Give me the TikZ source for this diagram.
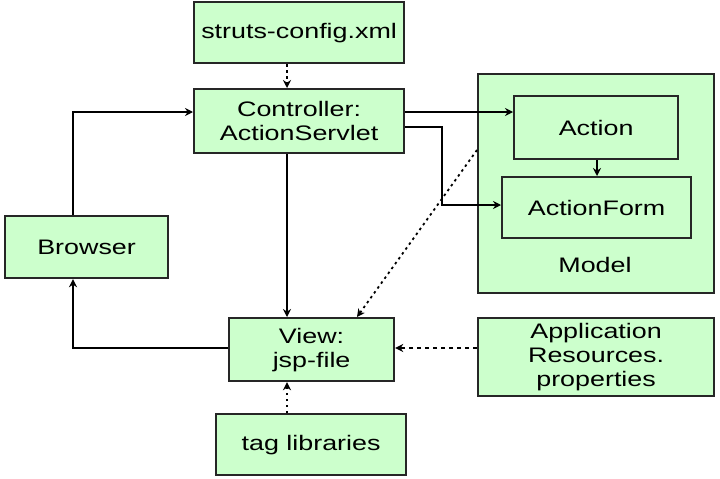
\documentclass[tikz,border=0pt]{standalone}
\usepackage{fontspec}
\setmainfont{Liberation Sans}[FakeStretch=1.28]
\usetikzlibrary{arrows.meta}
\definecolor{boxgreen}{RGB}{204,255,204}
\begin{document}
\begin{tikzpicture}[x=1pt,y=-1pt,
 box/.style={draw=black!85, line width=2.2pt, fill=boxgreen, inner sep=0pt, align=center, anchor=north west, font=\fontsize{21}{24}\selectfont},
 conn/.style={line width=1.8pt, -{Stealth[length=8pt,width=8pt]}},
 dotconn/.style={conn, dash pattern=on 2.5pt off 3.5pt},
 dashconn/.style={conn, dash pattern=on 4pt off 4pt}]
\useasboundingbox (0,0) rectangle (720,479);
\path[fill=white] (0,0) rectangle (720,479);
% boxes
\node[box, minimum width=210pt, minimum height=61pt] (struts) at (193,1) {struts-config.xml};
\node[box, minimum width=210pt, minimum height=64pt] (ctrl) at (193,88) {Controller:\\ActionServlet};
\node[box, minimum width=236pt, minimum height=219pt] (model) at (477,73) {};
\node[box, minimum width=164pt, minimum height=63pt] (action) at (513,95) {Action};
\node[box, minimum width=189pt, minimum height=61pt] (aform) at (501,176) {ActionForm};
\node[font=\fontsize{21}{24}\selectfont] (mlabel) at (595,265) {Model};
\node[box, minimum width=163pt, minimum height=62pt] (browser) at (4,215) {Browser};
\node[box, minimum width=165pt, minimum height=63pt] (view) at (228,317) {View:\\jsp-file};
\node[box, minimum width=190pt, minimum height=61pt] (tag) at (215,413) {tag libraries};
\node[box, minimum width=236pt, minimum height=78pt] (app) at (477,317) {Application\\Resources.\\properties};
% helper coordinates
\coordinate (vx) at (287,0);
\coordinate (bx) at (73,0);
\coordinate (ya) at (0,112);
\coordinate (yb) at (0,127);
\coordinate (yv) at (0,348);
\coordinate (bend) at (442,205);
\coordinate (ax) at (597,0);
\coordinate (my) at (0,150);
\coordinate (dx) at (357,0);
% connectors
\draw[dotconn] (struts.south -| vx) -- (ctrl.north -| vx);
\draw[conn] (ctrl.south -| vx) -- (view.north -| vx);
\draw[dotconn] (tag.north -| vx) -- (view.south -| vx);
\draw[conn] (ctrl.east |- ya) -- (action.west |- ya);
\draw[conn] (ctrl.east |- yb) -| (bend) -- (aform.west |- bend);
\draw[conn] (action.south -| ax) -- (aform.north -| ax);
\draw[conn] (browser.north -| bx) |- (ctrl.west |- ya);
\draw[conn] (view.west |- yv) -| (browser.south -| bx);
\draw[dashconn] (app.west |- yv) -- (view.east |- yv);
\draw[dotconn] (model.west |- my) -- (view.north -| dx);
\end{tikzpicture}
\end{document}
